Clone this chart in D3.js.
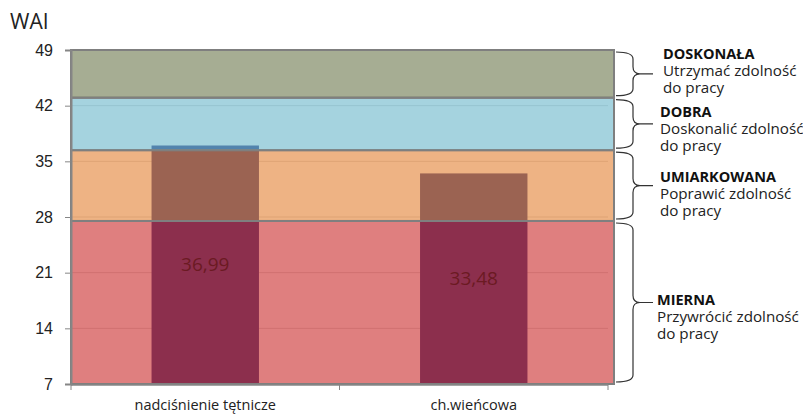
<!DOCTYPE html>
<html>
<head>
<meta charset="utf-8">
<script src="https://cdn.jsdelivr.net/npm/d3@7"></script>
<style>
  body { margin: 0; background: #fff; }
  svg { font-family: 'Open Sans', Lato, sans-serif; }
</style>
</head>
<body>
<div id="root"></div>
<script>
// data
const categories = ['nadciśnienie tętnicze', 'ch.wieńcowa'];
const waiValues = [36.99, 33.48];
const valueLabels = ['36,99', '33,48'];
const yTicks = [7, 14, 21, 28, 35, 42, 49];

// WAI bands, bottom to top
const bandLimits = [7, 27.5, 36.4, 43, 49];
const bandNames = ['MIERNA', 'UMIARKOWANA', 'DOBRA', 'DOSKONAŁA'];
const bandActions = ['Przywrócić zdolność', 'Poprawić zdolność', 'Doskonalić zdolność', 'Utrzymać zdolność'];
const bandSecondLine = ['do pracy', 'do pracy', 'do pracy', 'do pracy'];

// styles / layout
const bandColors = ['#ca2a2a', '#e38032', '#69b6ca', '#6b764b'];
const noteDy = [-3, -9, -12, -20];
const noteX = [657, 660, 660, 663];

const width = 803, height = 414;
const margin = { top: 50, right: 195, bottom: 30, left: 71 };

const svg = d3.select('#root').append('svg')
  .attr('width', width)
  .attr('height', height);

const x = d3.scaleBand()
  .domain(categories)
  .range([margin.left, width - margin.right])
  .padding(0);

const y = d3.scaleLinear()
  .domain([7, 49])
  .range([height - margin.bottom, margin.top]);

const barW = x.bandwidth() * 0.4;

// gridlines
svg.append('g')
  .selectAll('line')
  .data(yTicks.slice(1))
  .enter()
  .append('line')
    .attr('x1', margin.left)
    .attr('x2', width - margin.right)
    .attr('y1', (d) => y(d))
    .attr('y2', (d) => y(d))
    .attr('stroke', '#d9d9d9')
    .attr('stroke-width', 1);

// bars (under the translucent bands)
svg.append('g')
  .selectAll('rect')
  .data(waiValues)
  .enter()
  .append('rect')
    .attr('x', (d, i) => x(categories[i]) + (x.bandwidth() - barW) / 2)
    .attr('width', barW)
    .attr('y', (d) => y(d))
    .attr('height', (d) => y(7) - y(d))
    .attr('fill', '#303782');

// bands
const bandRight = width - margin.right + 6;
svg.append('g')
  .selectAll('rect')
  .data(bandNames)
  .enter()
  .append('rect')
    .attr('x', margin.left)
    .attr('width', bandRight - margin.left)
    .attr('y', (d, i) => y(bandLimits[i + 1]))
    .attr('height', (d, i) => y(bandLimits[i]) - y(bandLimits[i + 1]))
    .attr('fill', (d, i) => bandColors[i])
    .attr('fill-opacity', 0.6)
    .attr('stroke', '#7f7f7f')
    .attr('stroke-width', 2);

// value labels
svg.append('g')
  .selectAll('text')
  .data(waiValues)
  .enter()
  .append('text')
    .attr('x', (d, i) => x(categories[i]) + x.bandwidth() / 2)
    .attr('y', (d) => (y(d) + y(7)) / 2)
    .attr('dy', '0.35em')
    .attr('text-anchor', 'middle')
    .attr('font-size', 19)
    .attr('fill', '#6b1a22')
    .text((d, i) => valueLabels[i]);

// axes
const yAxis = svg.append('g')
  .attr('transform', 'translate(' + margin.left + ',0)')
  .call(d3.axisLeft(y).tickValues(yTicks).tickSize(6).tickPadding(12).tickFormat(d3.format('d')));
yAxis.select('.domain').attr('stroke', '#868686').attr('stroke-width', 2);
yAxis.selectAll('.tick line').attr('stroke', '#868686');
yAxis.selectAll('.tick text').attr('font-size', 16).attr('fill', '#222');

const xAxisG = svg.append('g')
  .attr('transform', 'translate(0,' + (y(7) + 1) + ')');
xAxisG.append('line')
  .attr('x1', margin.left)
  .attr('x2', width - margin.right)
  .attr('stroke', '#868686')
  .attr('stroke-width', 1.5);
xAxisG.selectAll('.xtick')
  .data([margin.left, ...categories.map((c) => x(c) + x.bandwidth())])
  .enter()
  .append('line')
    .attr('x1', (d) => d)
    .attr('x2', (d) => d)
    .attr('y1', 0)
    .attr('y2', 5)
    .attr('stroke', '#868686');
xAxisG.selectAll('text')
  .data(categories)
  .enter()
  .append('text')
    .attr('x', (d) => x(d) + x.bandwidth() / 2)
    .attr('y', 20)
    .attr('dy', '0.35em')
    .attr('text-anchor', 'middle')
    .attr('font-size', 14.5)
    .attr('fill', '#222')
    .text((d) => d);

// title
svg.append('text')
  .attr('x', 10)
  .attr('y', 22)
  .attr('dy', '0.35em')
  .attr('font-size', 21)
  .attr('fill', '#222')
  .text('WAI');

// braces + notes
function bracePath(yTop, yBot) {
  const x0 = bandRight + 2, xv = x0 + 17, xt = x0 + 37, r = 7;
  const ym = (yTop + yBot) / 2;
  return 'M' + x0 + ',' + yTop +
    ' Q' + xv + ',' + yTop + ' ' + xv + ',' + (yTop + r) +
    ' L' + xv + ',' + (ym - r) +
    ' Q' + xv + ',' + ym + ' ' + (xv + 7) + ',' + ym +
    ' L' + xt + ',' + ym +
    ' M' + (xv + 7) + ',' + ym +
    ' Q' + xv + ',' + ym + ' ' + xv + ',' + (ym + r) +
    ' L' + xv + ',' + (yBot - r) +
    ' Q' + xv + ',' + yBot + ' ' + x0 + ',' + yBot;
}

const notes = svg.append('g')
  .selectAll('g')
  .data(bandNames)
  .enter()
  .append('g');

notes.append('path')
  .attr('d', (d, i) => bracePath(y(bandLimits[i + 1]) + 2, y(bandLimits[i]) - 2))
  .attr('fill', 'none')
  .attr('stroke', '#333')
  .attr('stroke-width', 1.2);

notes.each(function(d, i) {
  const g = d3.select(this);
  const ym = (y(bandLimits[i + 1]) + y(bandLimits[i])) / 2;
  const ty = ym + noteDy[i];
  g.append('text')
    .attr('x', noteX[i])
    .attr('y', ty)
    .attr('dy', '0.35em')
    .attr('font-size', 14.5)
    .attr('font-weight', 'bold')
    .attr('fill', '#111')
    .text(d);
  g.append('text')
    .attr('x', noteX[i])
    .attr('y', ty + 17)
    .attr('dy', '0.35em')
    .attr('font-size', 15.2)
    .attr('fill', '#222')
    .text(bandActions[i]);
  g.append('text')
    .attr('x', noteX[i])
    .attr('y', ty + 34)
    .attr('dy', '0.35em')
    .attr('font-size', 15.2)
    .attr('fill', '#222')
    .text(bandSecondLine[i]);
});
</script>
</body>
</html>
